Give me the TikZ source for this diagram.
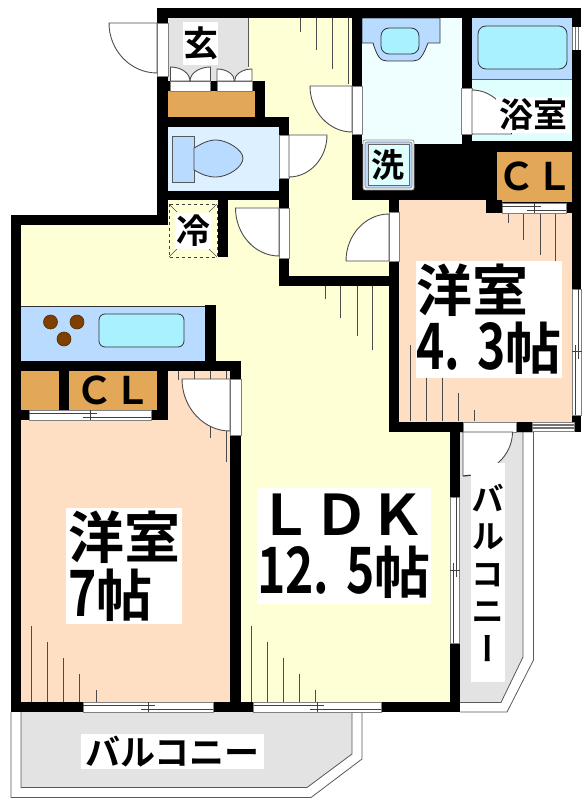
\documentclass[tikz,border=0pt]{standalone}
\usepackage{fontspec}
\usepackage{tikz}
\newfontfamily\jp{Noto Sans CJK JP}[BoldFont=* Bold]
\newfontfamily\jpv{Noto Sans CJK JP}[BoldFont=* Bold,RawFeature={+vert}]
\newfontfamily\jpn{Noto Sans CJK JP}[BoldFont=* Bold,BoldFeatures={FakeStretch=0.75}]
\newcommand{\roomnum}[1]{{\jpn\bfseries\fontsize{64}{58}\selectfont #1}}
\definecolor{yellowfloor}{HTML}{FFFFD5}
\definecolor{peachfloor}{HTML}{FFDFC4}
\definecolor{grayfloor}{HTML}{E3E3E3}
\definecolor{closet}{HTML}{E3A857}
\definecolor{fixture}{HTML}{B9DBFF}
\definecolor{basin}{HTML}{A9F1FF}
\definecolor{washfloor}{HTML}{EFFFFF}
\definecolor{bathfloor}{HTML}{DFFFFF}
\definecolor{toiletfloor}{HTML}{DDF0FF}
\definecolor{burner}{HTML}{7F3F00}

\begin{document}
\begin{tikzpicture}[
    x=1pt, y=-1pt,
    wallpart/.style={fill=black},
    edge/.style={draw=black!65, line width=0.8pt},
    tickline/.style={draw=black!70, line width=0.9pt},
    doorleaf/.style={fill=white, draw=black!70, line width=0.9pt},
    openpart/.style={fill=white, draw=black!50, line width=0.8pt},
    slideline/.style={draw=black!75, line width=0.9pt},
    roomtext/.style={fill=white, inner sep=0pt, align=left, font=\jp\bfseries},
    bigtext/.style={roomtext, font=\jp\bfseries\fontsize{56}{58}\selectfont}
    ]
    \useasboundingbox (0,0) rectangle (581,799);
    \fill[white] (0,0) rectangle (581,799);

    % floors
    \fill[yellowfloor] (248,18) -- (362,18) -- (362,200) -- (399,200) -- (399,290) -- (460,290)
        -- (460,712) -- (21,712) -- (21,225) -- (168,225) -- (168,195) -- (248,195) -- cycle;
    \fill[grayfloor] (168,18) rectangle (248,81);
    \fill[toiletfloor] (168,127) rectangle (279,191);
    \fill[washfloor] (362,18) rectangle (462,144);
    \fill[bathfloor] (472,79) rectangle (572,142);
    \fill[peachfloor] (399,200) rectangle (572,422);
    \fill[peachfloor] (21,420) rectangle (230,702);
    \fill[peachfloor] (168,371) rectangle (230,420);
    \draw[edge] (248,18) -- (248,67);

    % balconies
    \draw[fill=white, edge] (460,432) -- (533.5,432) -- (533.5,660) -- (507,712) -- (460,712);
    \draw[fill=grayfloor, edge] (460,432) -- (523,432) -- (523,657) -- (501,702.5) -- (460,702.5);
    \draw[fill=white, edge] (11,712) -- (11,797.5) -- (311,797.5) -- (362,759) -- (362,712);
    \draw[fill=grayfloor, edge] (21,712) -- (21,787.5) -- (307,787.5) -- (352,754) -- (352,712);

    % closets and fixtures
    \fill[closet] (168,91) rectangle (255,117);
    \fill[closet] (497,152) rectangle (572,202);
    \fill[closet] (21,371) rectangle (59,410);
    \fill[closet] (69,371) rectangle (157,410);
    \fill[fixture] (21,306) rectangle (205,361);
    \draw[black!80, line width=0.8pt] (21,306) -- (205,306);
    \draw[black!80, fill=basin, line width=0.8pt, rounded corners=6pt] (99,314) rectangle (184,347);
    \foreach \bx/\by in {50.5/322, 77/322, 64/339}
        \draw[burner!70!black, fill=burner, line width=0.6pt] (\bx,\by) circle (7);
    \fill[fixture] (472,18) rectangle (572,79);
    \draw[black!60, line width=0.8pt] (472,79) -- (572,79);
    \draw[black!80, fill=basin, line width=0.8pt, rounded corners=8pt] (478,26) rectangle (567,69);
    \draw[black!80, fill=fixture, line width=0.8pt] (362,18) -- (440,18) -- (440,43) -- (428,43)
        .. controls (423,56) and (420,61) .. (413,61) -- (387,61)
        .. controls (380,61) and (377,56) .. (373,43) -- (362,43) -- cycle;
    \draw[black!80, fill=basin, line width=0.8pt, rounded corners=8pt] (381,28) rectangle (419,54);
    \draw[black!65, fill=fixture, line width=0.8pt] (172,136) rectangle (194,182);
    \draw[black!75, fill=fixture, line width=0.8pt] (194,148)
        .. controls (203,143) and (208,140) .. (216,140)
        .. controls (227,140) and (243,150) .. (243,158)
        .. controls (243,167) and (228,177) .. (216,177)
        .. controls (208,177) and (203,175) .. (194,170) -- cycle;

    % floor ticks
    \foreach \tx/\tya/\tyb in {300/18/32, 316.5/18/50, 332/18/69, 348.5/18/84,
        325/286/299, 340/286/318, 357/286/336, 372/286/350,
        508/213/223, 523/213/240, 540/213/255, 555/213/261,
        410/345/421, 426/378/421, 442/378/421, 458/393/421, 474/410/421,
        178/371/380, 194/371/380, 210/371/438, 226/371/462,
        31/626/702, 47/642/702, 63/658/702, 79/674/702, 96/690/702,
        251/626/702, 267/642/702, 283.5/658/702, 299/674/702, 315/690/702}
        \draw[tickline] (\tx,\tya) -- (\tx,\tyb);

    % walls
    \foreach \xa/\ya/\xb/\yb in {157/8/581/18, 572/8/581/27, 572/50/581/289, 572/415/581/432,
        157/8/168/23, 157/76/168/225, 11/215/168/225, 11/215/21/712,
        168/81/170/91, 210.5/81/217/91, 252/81/265/91, 255/91/265/117,
        157/117/289/127, 279/117/289/135, 279/178/289/208, 279/258/289/286,
        157/191/289/200, 218/200/228/257, 280/276/399/286,
        352/18/362/86, 352/134/362/200, 461.5/18/472/88, 461.5/134/472/144,
        352/144/572/152, 472/141/572/152, 352/144/497/200, 486/200/502/213, 566/202/572/213, 497/202/572/203,
        389/200/399/212, 389/261/399/432, 389/422/463/432, 516/422/532/432, 
        205/305/216/361, 11/361/241/371, 230/361/241/379, 230/435/241/712,
        59/371/69/410, 157/371/168/420, 21/410/29/420, 151/410/168/420,
        11/702/83/712, 213/702/253.5/712, 381/702/460/712,
        450/432/460/497, 450/643/460/712}
        \fill[wallpart] (\xa,\ya) rectangle (\xb,\yb);

    % openings
    \foreach \xa/\ya/\xb/\yb in {157/23/168/76, 279/135/289/178, 279/208/289/258,
        352/86/362/134, 461.5/88/472/134, 389/212/399/261, 230/379/241/435, 463/422/516/432,
        170/81/210.5/91, 217/81/252/91}
        \draw[openpart] (\xa,\ya) rectangle (\xb,\yb);

    % sliding windows, along x
    \foreach \xa/\xb/\ya/\xm in {83/213/702/148, 253.5/381/702/317, 29/151/410/90, 502/566/203/534} {
        \draw[openpart] (\xa,\ya) rectangle (\xb,\ya+10);
        \draw[slideline] (\xa,\ya+3.5) -- (\xm+7,\ya+3.5);
        \draw[slideline] (\xm-7,\ya+7) -- (\xb,\ya+7);
        \draw[slideline] (\xm,\ya) -- (\xm,\ya+10);
    }
    % sliding windows, along y
    \foreach \ya/\yb/\xa/\ym in {497/643/450/570, 289/415/572/351.5} {
        \draw[openpart] (\xa,\ya) rectangle (\xa+9.5,\yb);
        \draw[slideline] (\xa+6.5,\ya) -- (\xa+6.5,\ym+7);
        \draw[slideline] (\xa+3,\ym-7) -- (\xa+3,\yb);
        \draw[slideline] (\xa,\ym) -- (\xa+9.5,\ym);
    }
    \draw[openpart] (532,422) rectangle (574,431);
    \draw[black!55, line width=1.2pt] (532,425) -- (574,425) (532,428) -- (574,428);
    \fill[white] (572,27) rectangle (581,50);
    \draw[black!55, line width=0.8pt] (572,27) -- (572,50) (575,27) -- (575,50) (578,27) -- (578,50);

    % doors: hinge, leaf tip, end of arc
    \foreach \hx/\hy/\ax/\ay/\bx/\by in {157/23/109/23/157/73, 352/86/310/86/352/132,
        289/135/327/135/289/177, 279/208/235.5/208/279/256, 389/261/346/261/389/214,
        230/379/182/379/230/431, 472/134/511.5/134/472/90, 463/432/512.5/432/463/476,
        170.5/81/170.5/67/190/81, 210.5/81/210.5/67/190/81, 217/81/217/69/234.5/81, 252/81/252/69/234.5/81}
        \draw[doorleaf] (\ax,\ay) .. controls ({\ax+0.55*(\bx-\hx)},{\ay+0.55*(\by-\hy)})
            and ({\bx+0.55*(\ax-\hx)},{\by+0.55*(\ay-\hy)}) .. (\bx,\by) -- (\hx,\hy) -- cycle;
    \draw[black!80, line width=0.8pt] (511.5,130) -- (511.5,134) (463,476) -- (470,475);

    % washer and fridge
    \draw[black!45, fill=white, line width=0.8pt, rounded corners=2pt] (363,140) rectangle (414,190);
    \draw[black!50, fill=fixture, line width=0.6pt, rounded corners=2pt] (365,142) rectangle (412,188);
    \draw[black!60, fill=bathfloor, line width=0.8pt] (368,144) rectangle (409,185);
    \draw[black!75, dashed, line width=0.8pt] (169,204) rectangle (217,257);
    \foreach \xa/\ya/\xb/\yb in {169/204/177/212, 217/204/209/212, 169/257/177/249, 217/257/209/249}
        \draw[black!70, line width=0.6pt] (\xa,\ya) -- (\xb,\yb);

    % room texts
    \node[roomtext, minimum width=35pt, minimum height=43pt] (genkan) at (200.5,43.5) {\fontsize{35}{35}\selectfont 玄};
    \node[roomtext, minimum width=36pt, minimum height=36pt] (fridge) at (193,231) {\fontsize{34}{34}\selectfont 冷};
    \node[roomtext, fill=none] (washer) at (388,165) {\fontsize{33}{33}\selectfont 洗};
    \node[roomtext, minimum width=74pt, minimum height=36pt] (bath) at (533,115) {\fontsize{34}{34}\selectfont 浴室};
    \node[font=\jp\bfseries, inner sep=0pt] (closettop) at (535,176) {\fontsize{38}{38}\selectfont ＣＬ};
    \node[font=\jp\bfseries, inner sep=0pt] (closetleft) at (113,390) {\fontsize{38}{38}\selectfont ＣＬ};
    \node[bigtext, minimum width=146pt, minimum height=117pt] (room43) at (489,319.5)
        {洋室\\\roomnum{4.\hspace{17pt}3}帖};
    \node[bigtext, minimum width=116pt, minimum height=116pt, text width=112pt] (room7) at (124,566)
        {洋室\\\roomnum{7}帖};
    \node[bigtext, minimum width=172pt, minimum height=116pt] (ldk) at (344,546)
        {ＬＤＫ\\\roomnum{12.\hspace{17pt}5}帖};
    \node[roomtext, align=center, minimum width=34pt, minimum height=219pt,
        font=\jpv\bfseries\fontsize{33}{37.5}\selectfont] (balconyeast) at (488,572.5) {バ\\ル\\コ\\ニ\\ー};
    \node[roomtext, minimum width=183pt, minimum height=35pt] (balconysouth) at (172.5,751.5)
        {\fontsize{35}{35}\selectfont バルコニー};
\end{tikzpicture}
\end{document}
